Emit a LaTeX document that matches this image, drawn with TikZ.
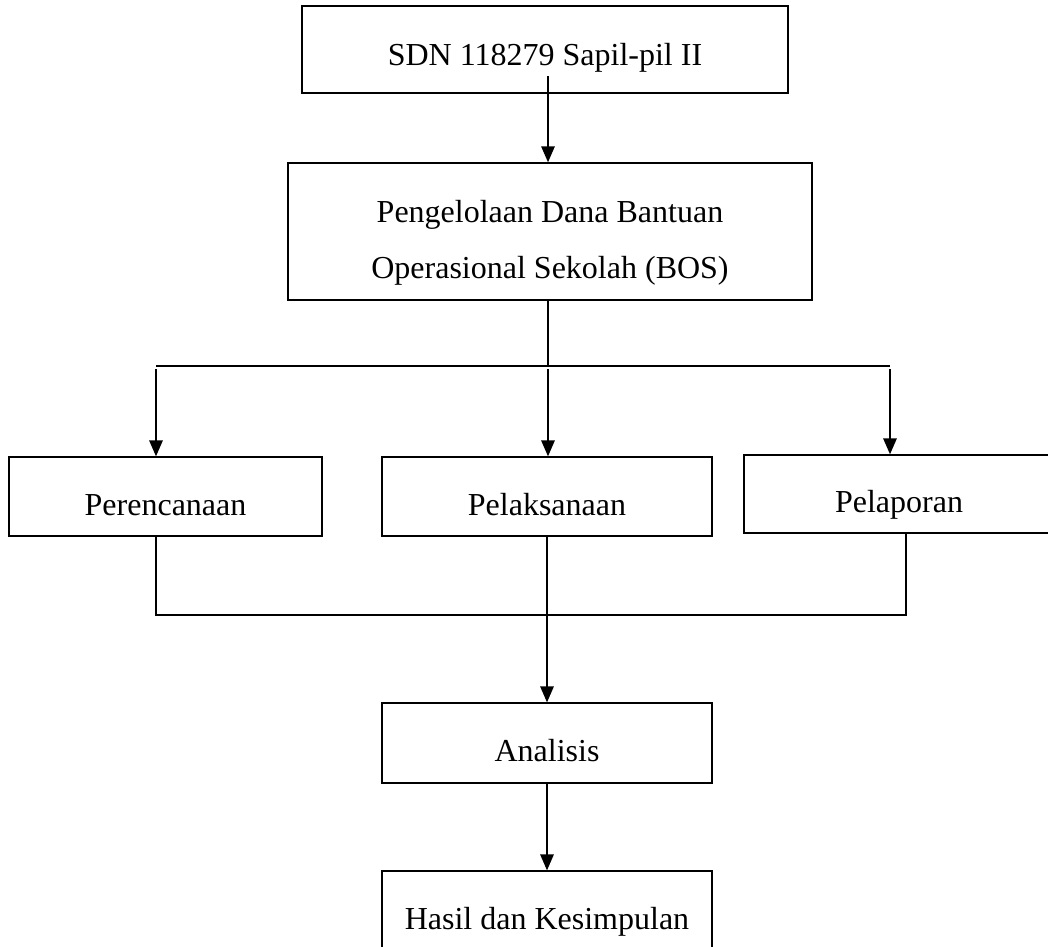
\documentclass[tikz,border=0pt]{standalone}
\usepackage{fontspec}
\setmainfont{Liberation Serif}
\usetikzlibrary{arrows.meta,positioning,calc}

\begin{document}
\begin{tikzpicture}
[box/.style={rectangle,draw=black,line width=1pt,inner sep=0pt,
font=\fontsize{24}{42}\selectfont,text height=34pt,text depth=6pt},
post/.style={-{Triangle[length=12pt,width=10pt]},line width=1.5pt},
joinline/.style={line width=1pt},
node distance=1cm,on grid]

\useasboundingbox (0,0) rectangle (786pt,-709.5pt);

\node [box,minimum width=364.5pt,minimum height=65.25pt,text height=29.5pt] (sdn) at (408.75pt,-37.1pt) {SDN 118279 Sapil-pil II};
\node [box,minimum width=393pt,minimum height=102.75pt,align=center,text height=76pt] (bos) [below=136.5pt of sdn,xshift=3.75pt] {Pengelolaan Dana Bantuan\\Operasional Sekolah (BOS)};
\node [box,minimum width=247.5pt,minimum height=59.25pt] (pel) [below=198.8pt of bos,xshift=-2.25pt] {Pelaksanaan};
\node [box,minimum width=234.75pt,minimum height=59.25pt] (per) [left=286.1pt of pel] {Perencanaan};
\node [box,minimum width=232.5pt,minimum height=58.5pt] (lap) [right=264pt of pel,yshift=1.9pt] {Pelaporan};
\node [box,minimum width=247.5pt,minimum height=60pt] (ana) [below=184.9pt of pel] {Analisis};
\node [box,minimum width=247.5pt,minimum height=60pt] (has) [below=126pt of ana] {Hasil dan Kesimpulan};

\coordinate (jl) at (117pt,-274.5pt);
\coordinate (jm) at (411pt,-274.5pt);
\coordinate (jr) at (667.5pt,-274.5pt);
\coordinate (bl) at (117pt,-461.25pt);
\coordinate (br) at (679.5pt,-461.25pt);

\draw [post] ($(jm |- sdn.south)+(0,13pt)$) -- (jm |- bos.north);
\draw [joinline] (jm |- bos.south) -- (jm);
\draw [line width=1.5pt] (jl) -- (jr);
\foreach \j/\b in {jl/per,jm/pel,jr/lap}
  \draw [post] ([yshift=-2.25pt]\j) -- (\j |- \b.north);
\draw [joinline] (bl |- per.south) -- (bl) -- (br) -- (br |- lap.south);
\draw [post] (pel.south) -- (ana.north);
\draw [post] (ana.south) -- (has.north);
\end{tikzpicture}
\end{document}
